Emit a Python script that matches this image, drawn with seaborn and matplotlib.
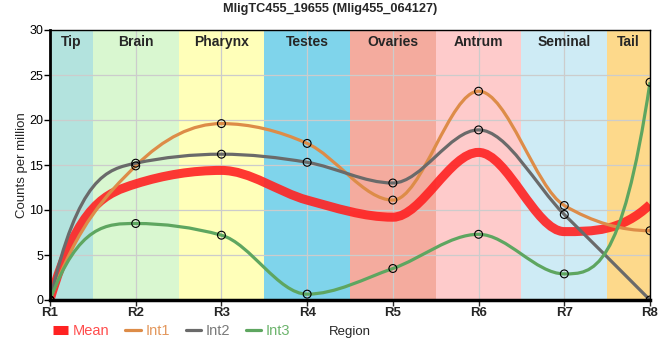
import numpy as np
import matplotlib
matplotlib.use("Agg")
import matplotlib.pyplot as plt
from matplotlib.path import Path
from matplotlib.patches import PathPatch
from matplotlib.lines import Line2D
import seaborn as sns

regions = ["R1", "R2", "R3", "R4", "R5", "R6", "R7", "R8"]
tissues = ["Tip", "Brain", "Pharynx", "Testes", "Ovaries", "Antrum", "Seminal", "Tail"]
tissue_colors = ["#b3e3de", "#d9f7d0", "#ffffb9", "#7fd4eb",
                 "#f4ab9e", "#fecbcb", "#ceebf5", "#fdd98b"]

mean = [0.0, 12.9, 14.4, 11.1, 9.2, 16.4, 7.6, 10.6]
int1 = [0.0, 14.9, 19.6, 17.4, 11.1, 23.2, 10.5, 7.7]
int2 = [0.0, 15.2, 16.2, 15.3, 13.0, 18.9, 9.5, 0.0]
int3 = [0.0, 8.5, 7.2, 0.65, 3.5, 7.3, 2.9, 24.2]

series = {"Int1": int1, "Int2": int2, "Int3": int3}
colors = {"Mean": "#ff2222", "Int1": "#dd8c48", "Int2": "#6a6a6a", "Int3": "#5ea660"}
text_colors = {"Mean": "#ff4d4d", "Int1": "#e3975c", "Int2": "#7a7a7a", "Int3": "#6db46d"}


def end_slope(s, t_next):
    # steep ends like the original, kept on the side of the secant
    t = 3 * s - 2 * t_next
    lo, hi = sorted((0.0, 3 * s))
    return min(max(t, lo), hi)


def smooth_path(xs, ys):
    # monotone cubic through the points, drawn as bezier segments
    xs = np.asarray(xs, float)
    ys = np.asarray(ys, float)
    n = len(xs)
    t = np.zeros(n)
    for i in range(1, n - 1):
        h0, h1 = xs[i] - xs[i - 1], xs[i + 1] - xs[i]
        s0, s1 = (ys[i] - ys[i - 1]) / h0, (ys[i + 1] - ys[i]) / h1
        p = (s0 * h1 + s1 * h0) / (h0 + h1)
        sg = (-1 if s0 < 0 else 1) + (-1 if s1 < 0 else 1)
        t[i] = sg * min(abs(s0), abs(s1), 0.5 * abs(p))
    t[0] = end_slope((ys[1] - ys[0]) / (xs[1] - xs[0]), t[1])
    t[-1] = end_slope((ys[-1] - ys[-2]) / (xs[-1] - xs[-2]), t[-2])
    verts = [(xs[0], ys[0])]
    codes = [Path.MOVETO]
    for i in range(n - 1):
        dx = (xs[i + 1] - xs[i]) / 3
        verts += [(xs[i] + dx, ys[i] + dx * t[i]),
                  (xs[i + 1] - dx, ys[i + 1] - dx * t[i + 1]),
                  (xs[i + 1], ys[i + 1])]
        codes += [Path.CURVE4] * 3
    return Path(verts, codes)


sns.set_style("white")
plt.rcParams["font.family"] = ["Liberation Sans", "DejaVu Sans"]

fig = plt.figure(figsize=(6.6, 3.6), dpi=100)
ax = fig.add_axes([50 / 660, 60 / 360, 600 / 660, 270 / 360])

x = np.arange(len(regions))
for i, (name, c) in enumerate(zip(tissues, tissue_colors)):
    ax.axvspan(i - 0.5, i + 0.5, color=c, lw=0, zorder=0.2)
    cx = min(max(i, 0.25), len(regions) - 1.25)
    ax.text(cx, 28.7, name, ha="center", va="center", fontsize=10,
            fontweight="bold", zorder=5)

ax.add_patch(PathPatch(smooth_path(x, mean), fill=False, lw=6.5,
                       edgecolor=colors["Mean"], alpha=0.9, zorder=2,
                       capstyle="butt"))
for k, vals in series.items():
    ax.add_patch(PathPatch(smooth_path(x, vals), fill=False, lw=2.3,
                           edgecolor=colors[k], zorder=3))
    sns.scatterplot(x=x, y=vals, ax=ax, s=32, facecolor="none",
                    edgecolor="black", linewidth=0.8, zorder=4, legend=False)

ax.set_xlim(0, len(regions) - 1)
ax.set_ylim(0, 30)
ax.set_xticks(x)
ax.set_xticklabels(regions, fontweight="bold", fontsize=9.5)
ax.set_yticks(range(0, 31, 5))
ax.tick_params(axis="y", labelsize=9, length=4, width=1, colors="black",
               direction="out", left=True, pad=1)
ax.tick_params(axis="x", length=4, width=1, direction="out", bottom=True, pad=1)
ax.set_axisbelow(True)
ax.grid(True, color="#cccccc", lw=0.9)
ax.set_xlabel("Region", fontsize=9.5, labelpad=5)
ax.set_ylabel("Counts per million", fontsize=9.5, labelpad=1)
for side in ["top", "right"]:
    ax.spines[side].set_linewidth(1)
ax.spines["left"].set_linewidth(2)
ax.spines["bottom"].set_linewidth(2.5)
for s in ax.spines.values():
    s.set_color("black")
    s.set_zorder(6)

fig.text(0.5, 1 - 9 / 360, "MligTC455_19655 (Mlig455_064127)", ha="center",
         va="center", fontsize=9.2, fontweight="bold")

handles = [Line2D([], [], color=colors["Mean"], lw=6.5, solid_capstyle="butt")]
handles += [Line2D([], [], color=colors[k], lw=2.3) for k in series]
labels = ["Mean"] + list(series)
fig.legend(handles, labels, loc="center left",
           bbox_to_anchor=(40 / 660, 1 - 331 / 360), ncol=4, frameon=False,
           fontsize=10.5, handlelength=1.05, handletextpad=0.3, columnspacing=1.1,
           labelcolor=[text_colors[l] for l in labels])

fig.savefig("out.png", dpi=100)
